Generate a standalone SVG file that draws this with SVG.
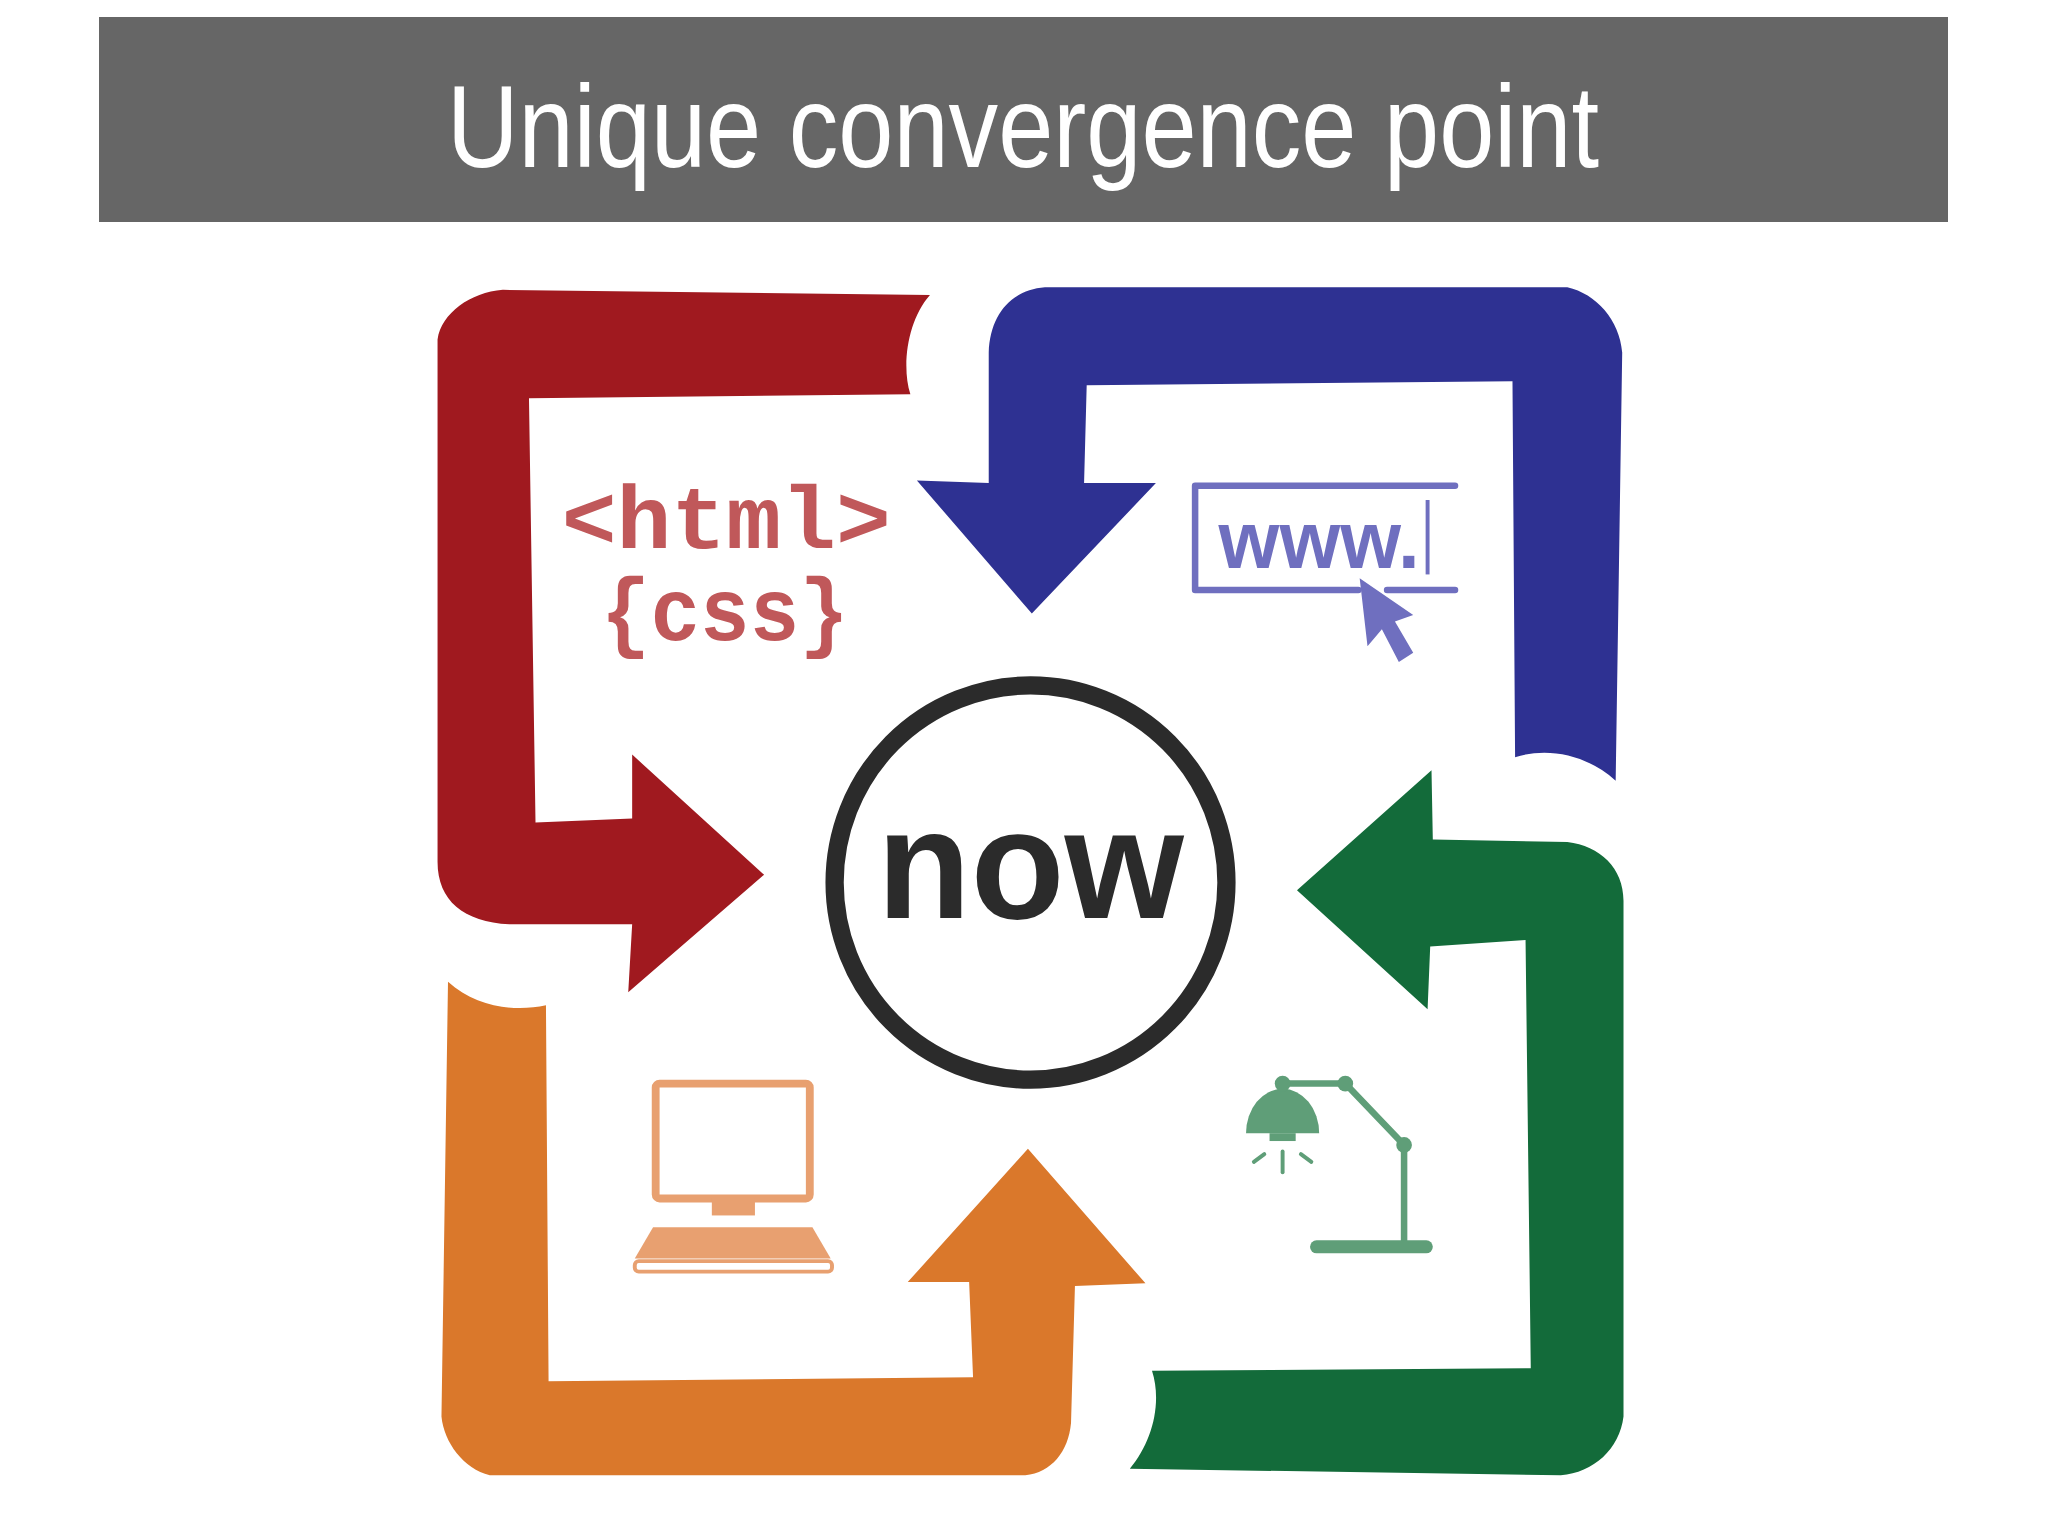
<svg xmlns="http://www.w3.org/2000/svg" width="2048" height="1534" viewBox="0 0 2048 1534">
<style>
.ic{fill:none;stroke-linecap:round;stroke-linejoin:round}
</style>
<rect width="2048" height="1534" fill="#ffffff"/>
<g id="header">
<rect x="99" y="17" width="1849" height="205" fill="#666666"/>
<text x="1023" y="167" text-anchor="middle" font-family="'Liberation Sans', Arial, sans-serif" font-size="116" fill="#ffffff" textLength="1152" lengthAdjust="spacingAndGlyphs">Unique convergence point</text>
</g>
<g transform="scale(1.30612 1.30553)">
<g id="connectors">
<path id="red-arrow" fill="#a0191f" d="M385,222 L712,226 C695,245 690,280 697,302 L405,305 L410,630 L484,627 L484,578 L585,670 L481,760 L484,708 L390,708 C355,706 335,690 335,660 L335,260 C338,240 360,224 385,222 Z"/>
<path id="blue-arrow" fill="#2e3192" d="M800,220 L1200,220 C1222,225 1240,245 1242,270 L1237,598 C1215,578 1185,572 1160,580 L1158,292 L832,295 L830,370 L885,370 L790,470 L702,368 L757,370 L757,270 C758,240 775,222 800,220 Z"/>
<path id="green-arrow" fill="#136b3a" d="M993,682 L1096,590 L1097,643 L1200,645 C1225,648 1243,665 1243,690 L1243,1085 C1240,1110 1220,1128 1195,1130 L865,1125 C882,1105 890,1075 882,1050 L1172,1048 L1168,720 L1095,725 L1093,773 Z"/>
<path id="orange-arrow" fill="#da782b" d="M343,752 C365,772 395,775 418,770 L420,1058 L745,1055 L742,982 L695,982 L787,880 L877,983 L823,985 L820,1090 C818,1112 805,1128 785,1130 L375,1130 C355,1125 340,1105 338,1085 Z"/>
</g>
<g id="now">
<ellipse cx="789" cy="676" rx="150" ry="151" fill="#ffffff" stroke="#2b2b2b" stroke-width="14"/>
<text x="789" y="703" text-anchor="middle" font-family="'Liberation Sans', Arial, sans-serif" font-size="120" font-weight="bold" fill="#2b2b2b" textLength="235" lengthAdjust="spacingAndGlyphs">now</text>
</g>
<g id="html-css" fill="#c0585a" font-family="'Liberation Mono', 'Courier New', monospace" font-weight="bold">
<text x="430" y="420" font-size="68" textLength="252" lengthAdjust="spacingAndGlyphs">&lt;html&gt;</text>
<text x="460" y="490" font-size="68" textLength="190" lengthAdjust="spacingAndGlyphs">{css}</text>
</g>
<g id="www">
<path class="ic" stroke="#6f6fbf" stroke-width="5" d="M1040,452 L915,452 L915,372 L1114,372 M1062,452 L1114,452"/>
<line x1="1093" y1="383" x2="1093" y2="440" stroke="#6f6fbf" stroke-width="3"/>
<text x="933" y="435" font-family="'Liberation Sans', Arial, sans-serif" font-size="62" font-weight="bold" fill="#6f6fbf" textLength="154" lengthAdjust="spacingAndGlyphs">www.</text>
<polygon points="1041,443 1047,495 1058,482 1071,507 1082,500 1068,476 1082,471" fill="#6f6fbf"/>
</g>
<g id="computer">
<rect x="502" y="830" width="118" height="88" rx="3" fill="none" stroke="#e8a070" stroke-width="6"/>
<rect x="545" y="918" width="33" height="13" fill="#e8a070"/>
<path d="M500,940 L622,940 L636,964 L486,964 Z" fill="#e8a070"/>
<rect x="486" y="966" width="151" height="8" rx="3" fill="none" stroke="#e8a070" stroke-width="3"/>
</g>
<g id="lamp">
<path d="M954,868 A28,34 0 0 1 1010,868 Z" fill="#5f9e78"/>
<g class="ic" stroke="#5f9e78" stroke-width="5">
<path d="M982,830 L1030,830 L1075,877 L1075,952"/>
<line x1="1008" y1="955" x2="1092" y2="955" stroke-width="10"/>
<line x1="982" y1="882" x2="982" y2="898" stroke-width="3"/>
<line x1="960" y1="890" x2="968" y2="884" stroke-width="3"/>
<line x1="1004" y1="890" x2="996" y2="884" stroke-width="3"/>
</g>
<rect x="972" y="868" width="20" height="6" fill="#5f9e78"/>
<circle cx="982" cy="830" r="6" fill="#5f9e78"/>
<circle cx="1030" cy="830" r="6" fill="#5f9e78"/>
<circle cx="1075" cy="877" r="6" fill="#5f9e78"/>
</g>
</g>
</svg>
